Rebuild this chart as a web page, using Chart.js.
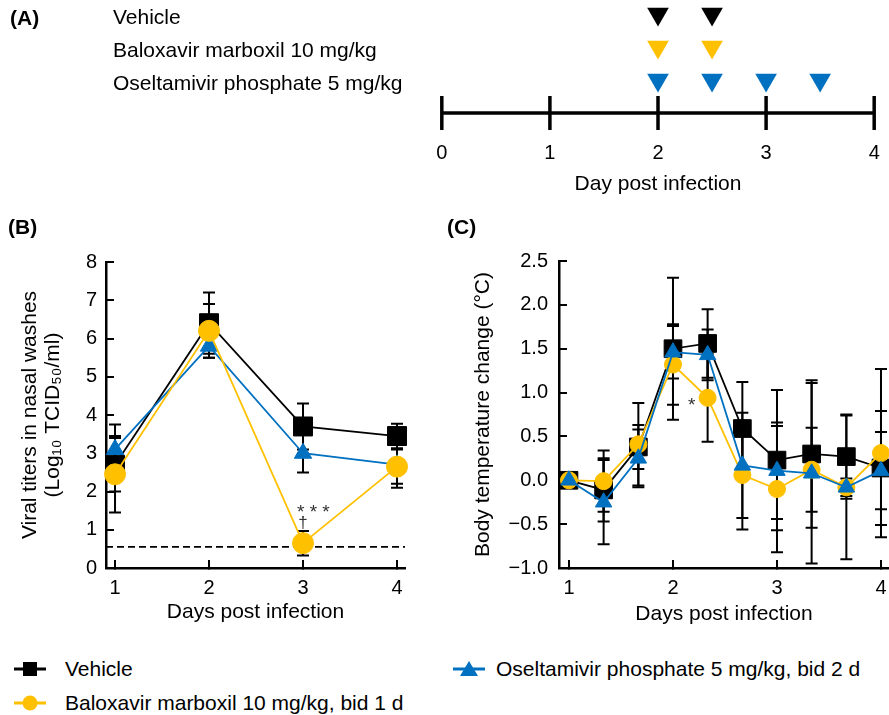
<!DOCTYPE html>
<html><head><meta charset="utf-8">
<script src="https://cdn.jsdelivr.net/npm/chart.js@4.4.1/dist/chart.umd.min.js"></script>
<style>
html,body{margin:0;padding:0;background:#fff;}
body{width:889px;height:715px;overflow:hidden;position:relative;font-family:"Liberation Sans",Arial,sans-serif;color:#000;}
canvas{position:absolute;}
.pl{position:absolute;font-weight:bold;font-size:21px;line-height:24px;}
.lg{position:absolute;font-size:21px;line-height:24px;height:24px;white-space:nowrap;}
svg{position:absolute;}
</style></head><body>
<canvas id="chA" width="889" height="200" style="left:0;top:0"></canvas>
<canvas id="chB" width="440" height="410" style="left:0;top:230px"></canvas>
<canvas id="chC" width="449" height="410" style="left:440px;top:230px"></canvas>
<div class="pl" style="left:10px;top:6px">(A)</div>
<div class="pl" style="left:8px;top:215px">(B)</div>
<div class="pl" style="left:447px;top:215px">(C)</div>
<div id="legend"></div>
<script>
// ---------- data ----------
const seriesNames = ['Vehicle', 'Baloxavir marboxil 10 mg/kg, bid 1 d', 'Oseltamivir phosphate 5 mg/kg, bid 2 d'];
const seriesColors = ['#000000', '#FFC000', '#0070C0'];

// Panel A: dosing schedule
const rowNames = ['Vehicle', 'Baloxavir marboxil 10 mg/kg', 'Oseltamivir phosphate 5 mg/kg'];
const rowValues = [3, 2, 1];
const timelineDays = [0, 1, 2, 3, 4];
const doseVeh = [2, 2.5];
const doseBal = [2, 2.5];
const doseOse = [2, 2.5, 3, 3.5];

// Panel B: viral titers
const daysB = [1, 2, 3, 4];
const vehB = [2.7, 6.4, 3.7, 3.45];
const vehBsd = [0.7, 0.8, 0.6, 0.32];
const balB = [2.45, 6.2, 0.65, 2.65];
const balBsd = [1.0, 0.7, 0.32, 0.45];
const oseB = [3.1, 5.8, 3.0, 2.7];
const oseBsd = [0.65, 0.3, 0.5, 0.6];
const lodB = 0.55;
const yTicksB = [0, 1, 2, 3, 4, 5, 6, 7, 8];
const xTicks = [1, 2, 3, 4];
const notesB = [{text: '* * *', x: 3.11, y: 1.44, size: 19}, {text: '†', x: 3.0, y: 1.17, size: 17}];

// Panel C: body temperature change
const daysC = [1, 1.333, 1.667, 2, 2.333, 2.667, 3, 3.333, 3.667, 4];
const vehC = [0.0, -0.11, 0.38, 1.50, 1.56, 0.59, 0.23, 0.30, 0.27, 0.14];
const vehCsd = [0.04, 0.36, 0.25, 0.81, 0.39, 0.53, 0.80, 0.84, 0.48, 0.65];
const balC = [0.0, -0.01, 0.41, 1.32, 0.94, 0.06, -0.10, 0.12, -0.08, 0.31];
const balCsd = [0.04, 0.35, 0.47, 0.46, 0.50, 0.62, 0.72, 0.48, 0.10, 0.96];
const oseC = [0.0, -0.25, 0.25, 1.46, 1.43, 0.17, 0.11, 0.08, -0.08, 0.11];
const oseCsd = [0.04, 0.48, 0.33, 0.30, 0.29, 0.60, 0.55, 1.03, 0.82, 0.44];
const yTicksC = [-1.0, -0.5, 0.0, 0.5, 1.0, 1.5, 2.0, 2.5];
const notesC = [{text: '*', x: 2.18, y: 0.85, size: 19}];

// ---------- helpers ----------
Chart.defaults.font.family = "'Liberation Sans', Arial, sans-serif";
Chart.defaults.color = '#000';
const pts = (xs, ys) => xs.map((x, i) => ({x: x, y: ys[i]}));

const errorBars = {
  id: 'errbars',
  beforeDatasetsDraw(chart, args, opts) {
    const {ctx} = chart; const xs = chart.scales.x, ys = chart.scales.y;
    ctx.save();
    ctx.strokeStyle = '#000'; ctx.lineWidth = opts.width || 2;
    chart.data.datasets.forEach(ds => {
      if (!ds.err) return;
      ds.data.forEach((p, j) => {
        const e = ds.err[j]; if (!e) return;
        const px = xs.getPixelForValue(p.x);
        const y1 = ys.getPixelForValue(p.y + e), y2 = ys.getPixelForValue(p.y - e);
        const c = opts.cap || 6;
        ctx.beginPath();
        ctx.moveTo(px, y1); ctx.lineTo(px, y2);
        ctx.moveTo(px - c, y1); ctx.lineTo(px + c, y1);
        ctx.moveTo(px - c, y2); ctx.lineTo(px + c, y2);
        ctx.stroke();
      });
    });
    ctx.restore();
  }
};
const notes = {
  id: 'notes',
  afterDatasetsDraw(chart, args, opts) {
    const items = opts.items || []; if (!items.length) return;
    const {ctx} = chart; const xs = chart.scales.x, ys = chart.scales.y;
    ctx.save();
    ctx.fillStyle = '#333';
    ctx.textAlign = 'center'; ctx.textBaseline = 'middle';
    items.forEach(n => {
      ctx.font = (n.size || 17) + "px 'Liberation Sans', Arial, sans-serif";
      ctx.fillText(n.text, xs.getPixelForValue(n.x), ys.getPixelForValue(n.y));
    });
    ctx.restore();
  }
};

function lineDs(label, xs, ys, sd, color, style, radius, order) {
  return {label, data: pts(xs, ys), err: sd, borderColor: color, backgroundColor: color,
    borderWidth: 1.8, pointStyle: style, pointRadius: radius, pointBackgroundColor: color,
    pointBorderColor: color, pointBorderWidth: 1, order: order, clip: false, tension: 0};
}
function axisStyle() {
  return {
    border: {display: true, color: '#000', width: 2.5},
    grid: {display: true, drawOnChartArea: false, drawTicks: true, tickLength: -8, tickColor: '#000', tickWidth: 2, color: '#000', lineWidth: 2}
  };
}
const commonPlugins = {legend: {display: false}, tooltip: {enabled: false}};

// ---------- Panel A ----------
function doseDs(label, days, row, color) {
  return {label, data: days.map(d => ({x: d, y: row})), showLine: false, pointStyle: 'triangle', rotation: 180,
    pointRadius: 12.5, pointBackgroundColor: color, pointBorderColor: color, pointBorderWidth: 0, clip: false};
}
new Chart(document.getElementById('chA'), {
  type: 'line',
  data: {datasets: [
    doseDs(rowNames[0], doseVeh, rowValues[0], seriesColors[0]),
    doseDs(rowNames[1], doseBal, rowValues[1], seriesColors[1]),
    doseDs(rowNames[2], doseOse, rowValues[2], seriesColors[2]),
    {label: 'timeline', data: timelineDays.map(d => ({x: d, y: 0})), borderColor: '#000', borderWidth: 3.5,
      pointStyle: 'line', rotation: 90, pointRadius: 17, pointBorderColor: '#000', pointBorderWidth: 3.5, clip: false}
  ]},
  options: {
    responsive: false, animation: false, events: [],
    layout: {autoPadding: false, padding: {left: 113, right: 4, top: 0, bottom: 0}},
    plugins: commonPlugins,
    scales: {
      x: {type: 'linear', min: -0.1, max: 4.1, bounds: 'data',
        afterBuildTicks: s => { s.ticks = timelineDays.map(v => ({value: v})); },
        afterFit: s => { s.height = 60; s.paddingLeft = 0; s.paddingRight = 0; },
        border: {display: false}, grid: {display: false, drawTicks: false},
        ticks: {autoSkip: false, padding: 1, font: {size: 20}, color: '#000', callback: v => String(v)},
        title: {display: true, text: 'Day post infection', font: {size: 21}, color: '#000', padding: {top: 0, bottom: 3.5}}
      },
      y: {type: 'linear', min: -0.818, max: 3.424, bounds: 'data',
        afterBuildTicks: s => { s.ticks = rowValues.map(v => ({value: v})); },
        afterFit: s => { s.width = 318; s.paddingTop = 0; s.paddingBottom = 0; },
        border: {display: false}, grid: {display: false, drawTicks: false},
        ticks: {autoSkip: false, crossAlign: 'far', labelOffset: 4, padding: 0, font: {size: 21}, color: '#000',
          callback: v => { const i = rowValues.indexOf(v); return i >= 0 ? rowNames[i] : ''; }}
      }
    }
  }
});

// ---------- Panel B ----------
const xMinB = 0.904, xMaxB = 4.085;
new Chart(document.getElementById('chB'), {
  type: 'line',
  data: {datasets: [
    lineDs(seriesNames[0], daysB, vehB, vehBsd, seriesColors[0], 'rect', 13.4, 3),
    lineDs(seriesNames[1], daysB, balB, balBsd, seriesColors[1], 'circle', 10.5, 1),
    lineDs(seriesNames[2], daysB, oseB, oseBsd, seriesColors[2], 'triangle', 10, 2),
    {label: 'LOD', data: [{x: xMinB, y: lodB}, {x: xMaxB, y: lodB}], borderColor: '#000', borderWidth: 1.8,
      borderDash: [7, 4], pointRadius: 0, order: 10}
  ]},
  options: {
    responsive: false, animation: false, events: [],
    layout: {autoPadding: false, padding: {left: 0, right: 35, top: 32, bottom: 12}},
    plugins: Object.assign({errbars: {width: 2, cap: 6}, notes: {items: notesB}}, commonPlugins),
    scales: {
      x: Object.assign(axisStyle(), {type: 'linear', min: xMinB, max: xMaxB, bounds: 'data',
        afterBuildTicks: s => { s.ticks = xTicks.map(v => ({value: v})); },
        afterFit: s => { s.height = 60; },
        ticks: {autoSkip: false, padding: 16.6, font: {size: 20}, color: '#000', callback: v => String(v)},
        title: {display: true, text: 'Days post infection', font: {size: 21}, color: '#000', padding: {top: 0, bottom: 3.5}}
      }),
      y: Object.assign(axisStyle(), {type: 'linear', min: 0, max: 8, bounds: 'data',
        afterBuildTicks: s => { s.ticks = yTicksB.map(v => ({value: v})); },
        afterFit: s => { s.width = 106; },
        ticks: {autoSkip: false, padding: 17, font: {size: 20}, color: '#000', callback: v => String(v)},
        title: {display: true, text: ['Viral titers in nasal washes', '(Log\u2081\u2080 TCID\u2085\u2080/ml)'],
          font: {size: 21, lineHeight: 1.1}, color: '#000', padding: {top: 18.5, bottom: 0}}
      })
    }
  },
  plugins: [errorBars, notes]
});

// ---------- Panel C ----------
new Chart(document.getElementById('chC'), {
  type: 'line',
  data: {datasets: [
    lineDs(seriesNames[0], daysC, vehC, vehCsd, seriesColors[0], 'rect', 12.5, 3),
    lineDs(seriesNames[1], daysC, balC, balCsd, seriesColors[1], 'circle', 8.5, 2),
    lineDs(seriesNames[2], daysC, oseC, oseCsd, seriesColors[2], 'triangle', 9.5, 1)
  ]},
  options: {
    responsive: false, animation: false, events: [],
    layout: {autoPadding: false, padding: {left: 0, right: 0, top: 31, bottom: 12}},
    plugins: Object.assign({errbars: {width: 2, cap: 6}, notes: {items: notesC}}, commonPlugins),
    scales: {
      x: Object.assign(axisStyle(), {type: 'linear', min: 0.904, max: 4.077, bounds: 'data',
        afterBuildTicks: s => { s.ticks = xTicks.map(v => ({value: v})); },
        afterFit: s => { s.height = 60; s.paddingRight = 0; },
        ticks: {autoSkip: false, padding: 16.6, font: {size: 20}, color: '#000', callback: v => String(v)},
        title: {display: true, text: 'Days post infection', font: {size: 21}, color: '#000', padding: {top: 0, bottom: 1.5}}
      }),
      y: Object.assign(axisStyle(), {type: 'linear', min: -1, max: 2.5, bounds: 'data',
        afterBuildTicks: s => { s.ticks = yTicksC.map(v => ({value: v})); },
        afterFit: s => { s.width = 119; },
        ticks: {autoSkip: false, padding: 19, font: {size: 20}, color: '#000',
          callback: v => Number(v).toFixed(1).replace('-', '\u2212')},
        title: {display: true, text: 'Body temperature change (\u00B0C)', font: {size: 21}, color: '#000', padding: {top: 30.5, bottom: 0}}
      })
    }
  },
  plugins: [errorBars, notes]
});

// ---------- Legend ----------
(function () {
  const L = document.getElementById('legend');
  const items = [
    {i: 0, x: 12, tx: 65, cy: 669, shape: 'rect'},
    {i: 2, x: 451, tx: 496, cy: 669, shape: 'tri'},
    {i: 1, x: 12, tx: 65, cy: 703, shape: 'circ'}
  ];
  items.forEach(it => {
    const c = seriesColors[it.i];
    let mk = '';
    if (it.shape === 'rect') mk = `<rect x="11" y="3" width="14" height="14" fill="${c}"/>`;
    if (it.shape === 'circ') mk = `<circle cx="18" cy="10" r="7.5" fill="${c}"/>`;
    if (it.shape === 'tri') mk = `<polygon points="18,2 27,17 9,17" fill="${c}"/>`;
    L.insertAdjacentHTML('beforeend',
      `<svg width="40" height="20" style="left:${it.x}px;top:${it.cy - 10}px"><line x1="2" y1="10" x2="34" y2="10" stroke="${c}" stroke-width="3"/>${mk}</svg>` +
      `<div class="lg" style="left:${it.tx}px;top:${it.cy - 12}px">${seriesNames[it.i]}</div>`);
  });
})();
</script>
</body></html>
